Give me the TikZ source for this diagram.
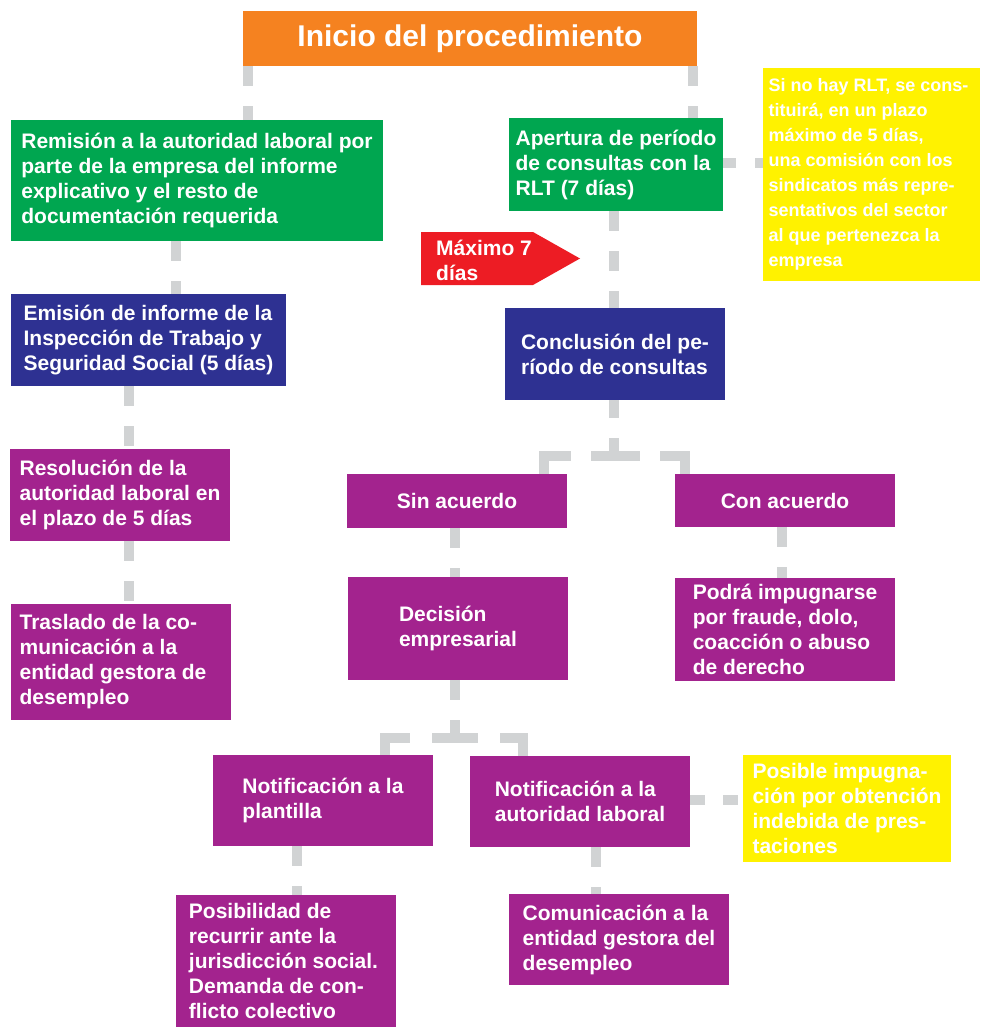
\documentclass[tikz,border=0pt]{standalone}
\usepackage{fontspec}
\setmainfont{Liberation Sans}
\definecolor{orangec}{HTML}{F58220}
\definecolor{greenc}{HTML}{00A650}
\definecolor{yellowc}{HTML}{FFF200}
\definecolor{redc}{HTML}{ED1C24}
\definecolor{bluec}{HTML}{2E3192}
\definecolor{purplec}{HTML}{A3238E}
\definecolor{lgray}{HTML}{D1D3D4}
\newcommand{\padr}[1]{\rule{#1}{0pt}}
\tikzset{
  box/.style={rectangle, inner sep=0pt, align=left, text=white,
    font=\fontsize{21}{25}\selectfont\bfseries},
  gbox/.style={box, fill=greenc},
  bbox/.style={box, fill=bluec},
  pbox/.style={box, fill=purplec},
  ybox/.style={box, fill=yellowc},
  conn/.style={draw=lgray, line width=10pt, dash pattern=on 20pt off 20pt},
}
\begin{document}
\begin{tikzpicture}[x=1pt,y=-1pt]
\useasboundingbox (0,0) rectangle (980,1027);

% boxes
\node[box, fill=orangec, minimum width=454pt, minimum height=55pt,
  font=\fontsize{30}{34}\selectfont\bfseries] (start) at (470,38.5) {Inicio del procedimiento};
\node[gbox, minimum width=372pt, minimum height=121pt] (remision) at (197,180.5)
  {Remisión a la autoridad laboral por\\parte de la empresa del informe\\explicativo y el resto de\\documentación requerida};
\node[gbox, minimum width=214pt, minimum height=93pt] (apertura) at (616,164.5)
  {Apertura de período\\de consultas con la\\RLT (7 días)};
\node[ybox, minimum width=217pt, minimum height=213pt,
  font=\fontsize{18}{25}\selectfont\bfseries] (rlt) at (871.5,174.5)
  {Si no hay RLT, se cons-\padr{6pt}\\tituirá, en un plazo\\máximo de 5 días,\\una comisión con los\\sindicatos más repre-\\sentativos del sector\\al que pertenezca la\\empresa};
\fill[redc] (421,232) -- (533,232) -- (580,258.5) -- (533,285) -- (421,285) -- cycle;
\node[box, anchor=west] (maximo) at (436,260) {Máximo 7\\días};
\node[bbox, minimum width=275pt, minimum height=92pt] (emision) at (148.5,340)
  {Emisión de informe de la\\Inspección de Trabajo y\\Seguridad Social (5 días)};
\node[bbox, minimum width=220pt, minimum height=92pt] (conclusion) at (615,354)
  {Conclusión del pe-\\ríodo de consultas};
\node[pbox, minimum width=220pt, minimum height=92pt] (resolucion) at (120,495)
  {Resolución de la\\autoridad laboral en\\el plazo de 5 días};
\node[pbox, minimum width=220pt, minimum height=116pt] (traslado) at (121,662)
  {Traslado de la co-\\municación a la\\entidad gestora de\padr{16pt}\\desempleo};
\node[pbox, minimum width=220pt, minimum height=54pt] (sin) at (457,501) {Sin acuerdo};
\node[pbox, minimum width=220pt, minimum height=53pt] (con) at (785,500.5) {Con acuerdo};
\node[pbox, minimum width=220pt, minimum height=103pt] (decision) at (458,628.5)
  {Decisión\\empresarial};
\node[pbox, minimum width=220pt, minimum height=103pt] (podra) at (785,629.5)
  {Podrá impugnarse\\por fraude, dolo,\\coacción o abuso\\de derecho};
\node[pbox, minimum width=220pt, minimum height=91pt] (notif1) at (323,800.5)
  {Notificación a la\\plantilla\phantom{g}};
\node[pbox, minimum width=220pt, minimum height=91pt] (notif2) at (580,801.5)
  {Notificación a la\\autoridad laboral};
\node[ybox, minimum width=208pt, minimum height=107pt] (posible) at (847,808.5)
  {Posible impugna-\\ción por obtención\\indebida de pres-\\taciones};
\node[pbox, minimum width=220pt, minimum height=132pt] (posibilidad) at (286,961)
  {Posibilidad de\\recurrir ante la\\jurisdicción social.\padr{5pt}\\Demanda de con-\\flicto colectivo};
\node[pbox, minimum width=220pt, minimum height=91pt] (comunicacion) at (619,939.5)
  {Comunicación a la\\entidad gestora del\\desempleo};

% split points
\coordinate (split1) at (614,456);
\coordinate (split2) at (455,738);

% connectors
\draw[conn] (start.south -| 248,0) -- (remision.north -| 248,0);
\draw[conn] (start.south -| 693,0) -- (apertura.north -| 693,0);
\draw[conn, dash pattern=on 13pt off 19pt] (apertura.east |- 0,163) -- (rlt.west |- 0,163);
\draw[conn] (remision.south -| 176,0) -- (emision.north -| 176,0);
\draw[conn] (emision.south -| 129,0) -- (resolucion.north -| 129,0);
\draw[conn] (resolucion.south -| 128.5,0) -- (traslado.north -| 128.5,0);
\draw[conn] (apertura.south -| 614,0) -- (conclusion.north -| 614,0);
\draw[conn, dash pattern=on 18pt off 20pt] (conclusion.south -| 614,0) -- (split1);
\draw[conn, dash pattern=on 45pt off 20pt on 49pt off 20pt on 50pt off 20pt]
  (sin.north -| 544,0) |- (split1) -| (con.north -| 685,0);
\draw[conn] (sin.south -| 455,0) -- (decision.north -| 455,0);
\draw[conn] (con.south -| 782,0) -- (podra.north -| 782,0);
\draw[conn] (decision.south -| 455,0) -- (split2);
\draw[conn, dash pattern=on 42pt off 22pt on 46pt off 22pt on 50pt off 20pt]
  (notif1.north -| 385,0) |- (split2) -| (notif2.north -| 523,0);
\draw[conn, dash pattern=on 15pt off 18pt] (notif2.east |- 0,800) -- (posible.west |- 0,800);
\draw[conn] (notif1.south -| 297,0) -- (posibilidad.north -| 297,0);
\draw[conn] (notif2.south -| 596,0) -- (comunicacion.north -| 596,0);
\end{tikzpicture}
\end{document}
